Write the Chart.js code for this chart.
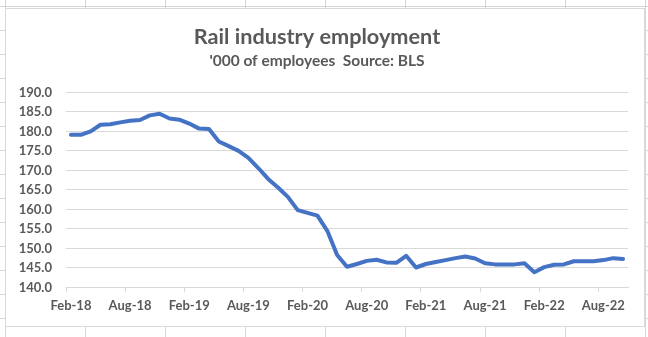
<!DOCTYPE html>
<html>
<head>
<meta charset="utf-8">
<script src="https://cdn.jsdelivr.net/npm/chart.js@4.4.1/dist/chart.umd.min.js"></script>
<style>
  html, body { margin: 0; padding: 0; }
  body {
    width: 648px; height: 337px; overflow: hidden;
    background-color: #fff;
    background-image:
      linear-gradient(to right, #d6d6d6 1px, transparent 1px),
      linear-gradient(to bottom, #d6d6d6 1px, transparent 1px);
    background-size: 80px 24px;
    background-position: 5px 6px;
  }
  #box {
    position: absolute; left: 5px; top: 8px;
    width: 640px; height: 319px;
    box-sizing: border-box;
    border: 1px solid #d9d9d9;
    background: #fff;
  }
</style>
</head>
<body>
<div id="box"><canvas id="railChart"></canvas></div>
<script>
// Rail industry employment, monthly, thousands of employees (BLS)
var months = [
  'Feb-18', 'Mar-18', 'Apr-18', 'May-18', 'Jun-18', 'Jul-18', 'Aug-18', 'Sep-18', 'Oct-18', 'Nov-18', 'Dec-18',
  'Jan-19', 'Feb-19', 'Mar-19', 'Apr-19', 'May-19', 'Jun-19', 'Jul-19', 'Aug-19', 'Sep-19', 'Oct-19', 'Nov-19', 'Dec-19',
  'Jan-20', 'Feb-20', 'Mar-20', 'Apr-20', 'May-20', 'Jun-20', 'Jul-20', 'Aug-20', 'Sep-20', 'Oct-20', 'Nov-20', 'Dec-20',
  'Jan-21', 'Feb-21', 'Mar-21', 'Apr-21', 'May-21', 'Jun-21', 'Jul-21', 'Aug-21', 'Sep-21', 'Oct-21', 'Nov-21', 'Dec-21',
  'Jan-22', 'Feb-22', 'Mar-22', 'Apr-22', 'May-22', 'Jun-22', 'Jul-22', 'Aug-22', 'Sep-22', 'Oct-22'
];
var employment = [
  179.1, 179.1, 180.0, 181.7, 181.8, 182.3, 182.7, 182.9, 184.1, 184.5, 183.3,
  183.0, 182.0, 180.7, 180.6, 177.4, 176.2, 175.0, 173.2, 170.6, 167.8, 165.6, 163.2,
  159.8, 159.1, 158.4, 154.5, 148.3, 145.3, 146.0, 146.8, 147.1, 146.4, 146.3, 148.1,
  145.1, 146.0, 146.5, 147.0, 147.5, 147.9, 147.4, 146.2, 145.9, 145.9, 145.9, 146.2,
  143.9, 145.2, 145.8, 145.9, 146.7, 146.7, 146.7, 147.0, 147.5, 147.3
];
var labelEvery = 6;   // one date label per half year
var yMin = 140, yMax = 190, yStep = 5;

var grey = '#595959';
var gridGrey = '#d9d9d9';
var fontFamily = 'Lato, "Open Sans", sans-serif';

var ctx = document.getElementById('railChart').getContext('2d');
var myChart = new Chart(ctx, {
    type: 'line',
    data: {
        labels: months,
        datasets: [{
            label: 'Rail industry employment',
            data: employment,
            borderColor: '#4472C4',
            backgroundColor: '#4472C4',
            borderWidth: 4,
            pointRadius: 0,
            tension: 0,
            borderJoinStyle: 'round',
            borderCapStyle: 'round'
        }]
    },
    options: {
        responsive: true,
        maintainAspectRatio: false,
        animation: false,
        layout: {
            padding: { left: 0, right: 16, top: 0, bottom: 6 }
        },
        plugins: {
            legend: { display: false },
            tooltip: { enabled: false },
            title: {
                display: true,
                text: 'Rail industry employment',
                color: grey,
                font: { family: fontFamily, size: 21.7, weight: 'bold' },
                padding: { top: 14.7, bottom: 2.3 }
            },
            subtitle: {
                display: true,
                text: "'000 of employees  Source: BLS",
                color: grey,
                font: { family: fontFamily, size: 15.5, weight: 'bold' },
                padding: { top: 0, bottom: 21.7 }
            }
        },
        scales: {
            x: {
                offset: true,
                grid: {
                    offset: true,
                    drawOnChartArea: false,
                    tickLength: 5,
                    color: function (c) {
                        return (c.index % labelEvery === 0) ? gridGrey : 'rgba(0,0,0,0)';
                    }
                },
                border: { color: gridGrey },
                ticks: {
                    autoSkip: false,
                    maxRotation: 0,
                    padding: 6,
                    color: grey,
                    font: { family: fontFamily, size: 13, weight: 'bold' },
                    callback: function (val, i) {
                        return (i % labelEvery === 0) ? this.getLabelForValue(val) : '';
                    }
                }
            },
            y: {
                min: yMin,
                max: yMax,
                afterFit: function (s) { s.width = 60; },
                grid: { color: gridGrey, drawTicks: false },
                border: { display: false },
                ticks: {
                    stepSize: yStep,
                    padding: 14,
                    color: grey,
                    font: { family: fontFamily, size: 13, weight: 'bold' },
                    callback: function (v) { return v.toFixed(1); }
                }
            }
        }
    }
});
</script>
</body>
</html>
